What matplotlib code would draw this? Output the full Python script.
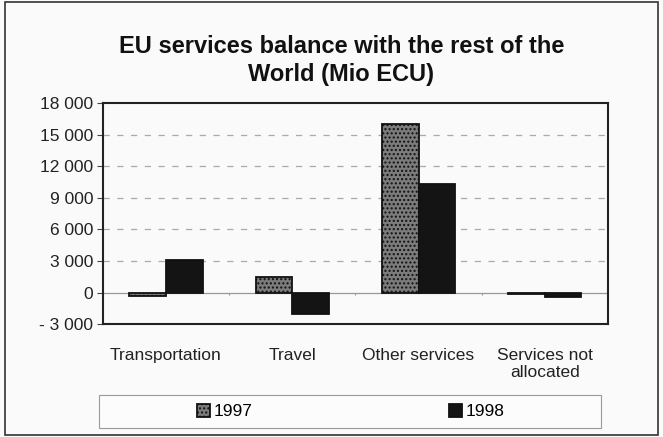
import numpy as np
import matplotlib.pyplot as plt
from matplotlib.patches import Rectangle

# Datos
categorias = ['Transportation', 'Travel', 'Other services', 'Services not\nallocated']
valores_1997 = [-300, 1500, 16000, -150]
valores_1998 = [3100, -2000, 10300, -450]
anios = ['1997', '1998']
ticks_y = [-3000, 0, 3000, 6000, 9000, 12000, 15000, 18000]
etiquetas_y = ['- 3 000', '0', '3 000', '6 000', '9 000', '12 000', '15 000', '18 000']

plt.rcParams['font.family'] = ['Liberation Sans', 'DejaVu Sans']
plt.rcParams['hatch.color'] = '#a8a8a8'
plt.rcParams['hatch.linewidth'] = 1.0

fig = plt.figure(figsize=(6.63, 4.37), dpi=100)
fig.patch.set_facecolor('#fafafa')
fig.patches.append(Rectangle((0.008, 0.005), 0.985, 0.99, transform=fig.transFigure,
                             fill=False, edgecolor='#333333', linewidth=1.2))

ax = fig.add_axes([0.155, 0.258, 0.762, 0.506])
ax.set_facecolor('#fafafa')

x = np.arange(len(categorias))
ancho = 0.29
ax.bar(x - ancho / 2, valores_1997, ancho, color='#7c7c7c', edgecolor='#111111',
       linewidth=1.3, hatch='....', label=anios[0], zorder=3)
ax.bar(x + ancho / 2, valores_1998, ancho, color='#141414', edgecolor='#111111',
       linewidth=1.3, label=anios[1], zorder=3)

ax.set_xlim(-0.5, 3.5)
ax.set_ylim(-3000, 18000)
ax.set_yticks(ticks_y)
ax.set_yticklabels(etiquetas_y, fontsize=12.5, color='#222222')
ax.set_xticks(x)
ax.set_xticklabels(categorias, fontsize=12.5, color='#222222', linespacing=1.15)
ax.tick_params(axis='x', length=0, pad=17)
ax.tick_params(axis='y', length=4, direction='out', color='#444444', pad=3)

for v in ticks_y[2:-1]:
    ax.axhline(v, color='#aaaaaa', linestyle=(0, (5, 6)), linewidth=0.9, zorder=1)
ax.axhline(0, color='#999999', linewidth=0.9, zorder=2)
# Pequenas marcas entre categorias sobre el eje 0
ax.vlines(x[:-1] + 0.5, -250, 0, color='#999999', linewidth=0.9, zorder=2)

for s in ax.spines.values():
    s.set_color('#222222')
    s.set_linewidth(1.5)

fig.text(0.515, 0.862, 'EU services balance with the rest of the\nWorld (Mio ECU)',
         ha='center', va='center', fontsize=17, fontweight='bold',
         color='#111111', linespacing=1.3)

# Caja de la leyenda
fig.patches.append(Rectangle((0.149, 0.021), 0.757, 0.076, transform=fig.transFigure,
                             facecolor='#fcfcfc', edgecolor='#999999', linewidth=0.8))
leg = fig.legend(loc='center', bbox_to_anchor=(0.529, 0.058), ncol=2, fontsize=12.5,
                 frameon=False, handlelength=0.75, handleheight=0.75, handletextpad=0.2,
                 columnspacing=11.3)

fig.savefig('out.png', dpi=100, facecolor=fig.get_facecolor())
